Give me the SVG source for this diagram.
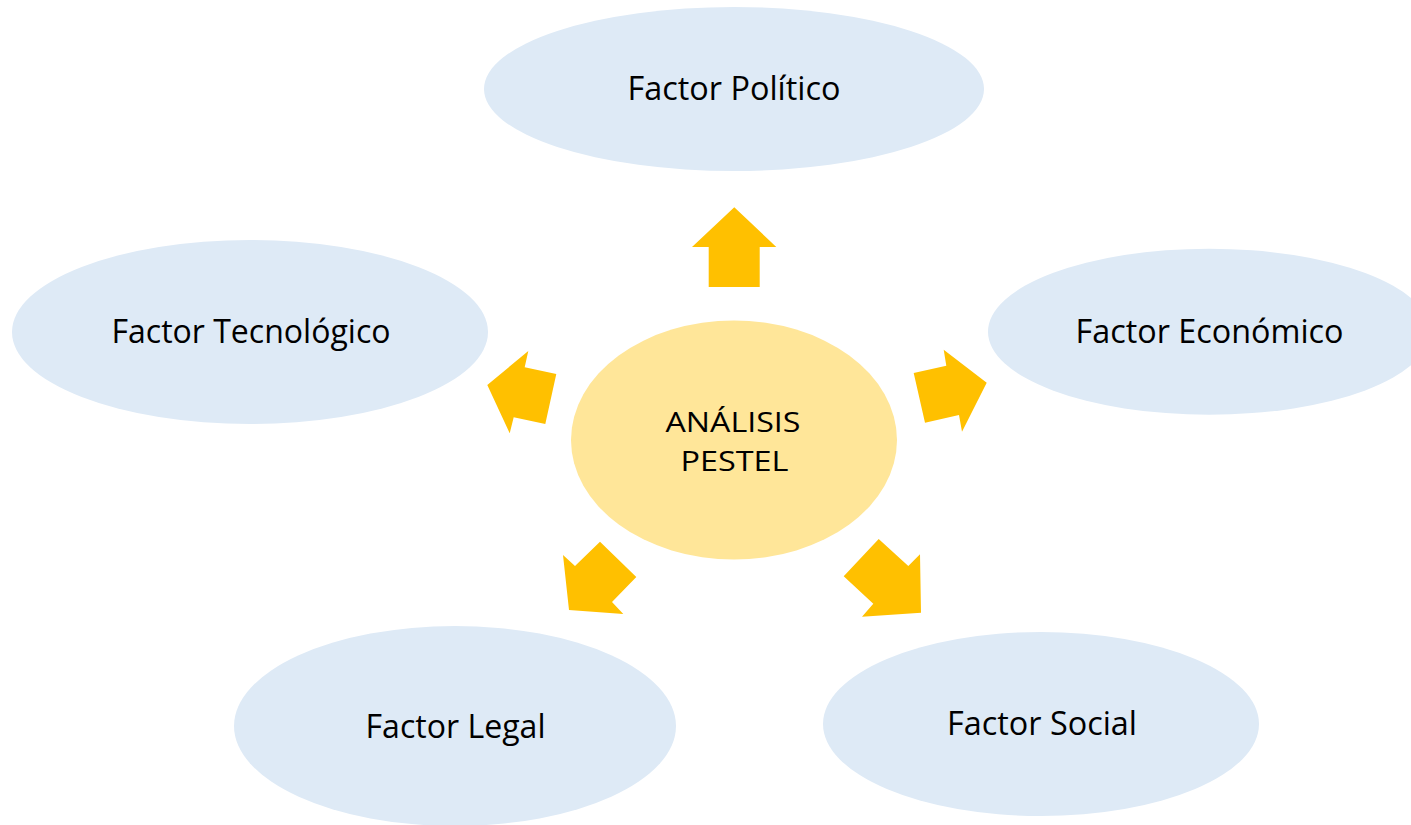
<svg xmlns="http://www.w3.org/2000/svg" width="1411" height="825" viewBox="0 0 1411 825">
<style>
.factor{fill:#DEEAF6}
.center{fill:#FFE699}
.arrow{fill:#FFC000}
text{font-family:"Open Sans","Liberation Sans",sans-serif;font-size:32px;fill:#000;text-anchor:middle}
text.ctr{font-size:28px}
</style>
<rect width="1411" height="825" fill="#FFFFFF"/>
<g id="connectors">
<polygon class="arrow" points="734.3,207.3 776.3,247 759.7,247 759.7,287 708.7,287 708.7,247 692,247"/>
<polygon class="arrow" points="528.3,351 524.7,367.3 556.3,374 545.3,424 513.7,417.3 509.7,433.3 487.3,385"/>
<polygon class="arrow" points="943.7,349.7 986.7,382.7 962,431.7 959,415 925,422.7 913.7,373 946.3,365.7"/>
<polygon class="arrow" points="563,555 575,566 600,541.7 636.3,577 612,602 623.3,614 569,610"/>
<polygon class="arrow" points="878.7,539 908.3,566 920,554.3 921,612.7 862,616.7 873.3,603.7 843.7,576.3"/>
</g>
<g id="node-politico">
<ellipse class="factor" cx="734" cy="89" rx="250" ry="82"/>
<text x="734" y="99.5" textLength="213" lengthAdjust="spacingAndGlyphs">Factor Político</text>
</g>
<g id="node-tecnologico">
<ellipse class="factor" cx="250" cy="332" rx="238" ry="92"/>
<text x="251" y="342.5" textLength="279" lengthAdjust="spacingAndGlyphs">Factor Tecnológico</text>
</g>
<g id="node-economico">
<ellipse class="factor" cx="1209" cy="331.7" rx="221" ry="83"/>
<text x="1209.5" y="342.7" textLength="268" lengthAdjust="spacingAndGlyphs">Factor Económico</text>
</g>
<g id="node-legal">
<ellipse class="factor" cx="455" cy="726" rx="221" ry="100"/>
<text x="455.5" y="737.5" textLength="180" lengthAdjust="spacingAndGlyphs">Factor Legal</text>
</g>
<g id="node-social">
<ellipse class="factor" cx="1041" cy="724" rx="218" ry="92"/>
<text x="1042" y="735" textLength="190" lengthAdjust="spacingAndGlyphs">Factor Social</text>
</g>
<g id="node-center">
<ellipse class="center" cx="734" cy="440" rx="163" ry="119.5"/>
<text class="ctr" x="733" y="432.3" textLength="135" lengthAdjust="spacingAndGlyphs">ANÁLISIS</text>
<text class="ctr" x="734.5" y="471" textLength="108" lengthAdjust="spacingAndGlyphs">PESTEL</text>
</g>
</svg>
